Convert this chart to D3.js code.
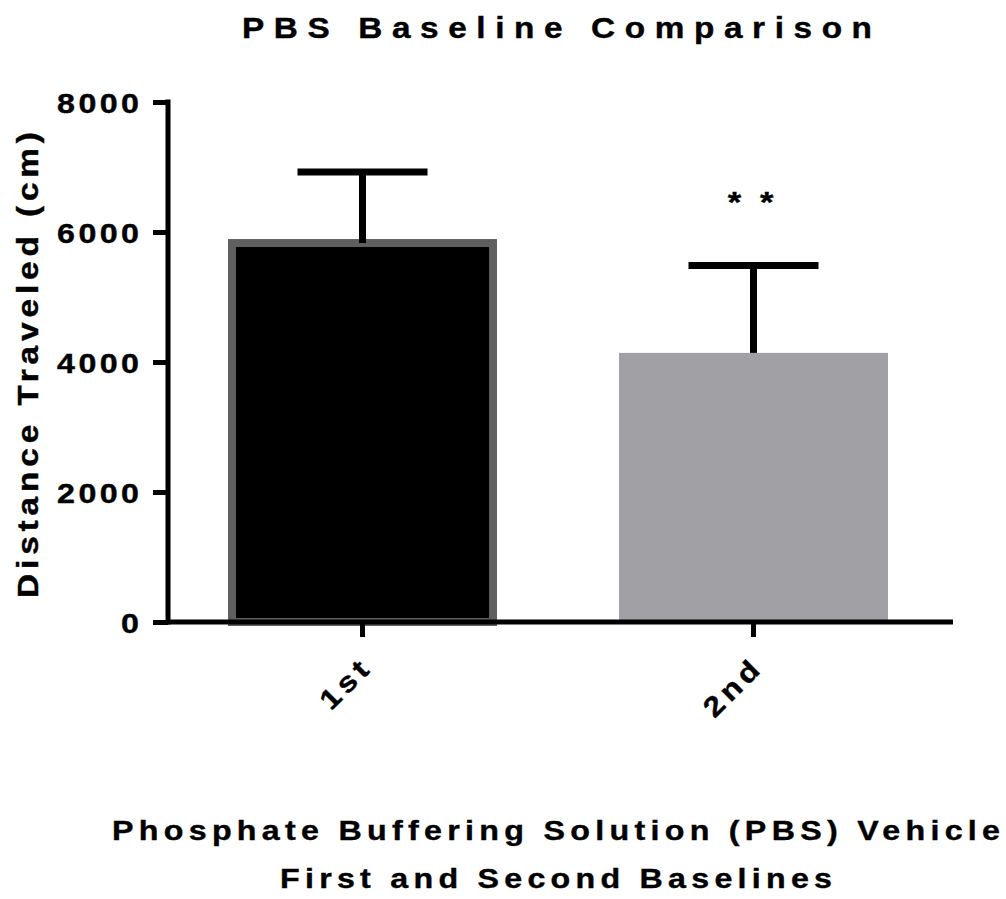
<!DOCTYPE html>
<html>
<head>
<meta charset="utf-8">
<script src="https://cdn.jsdelivr.net/npm/d3@7"></script>
<style>
  body { margin: 0; background: #fff; }
  text { font-family: "Liberation Sans", Arial, sans-serif; font-weight: bold; fill: #000; stroke: #000; stroke-width: 0.4px; }
</style>
</head>
<body>
<script>
// data
var groups = ["1st", "2nd"];
var means = [5830, 4140];
var sds = [1093, 1345];
var marks = ["", "* *"];
var yTicks = [0, 2000, 4000, 6000, 8000];
var fills = ["#000000", "#a1a0a5"];
var strokes = ["#5f5f5f", "none"];

var width = 1006, height = 899;
var stretch = 1.15; // the original lettering is a bit wider than Arial

var svg = d3.select("body").append("svg")
  .attr("width", width).attr("height", height);

var x_scale = d3.scaleBand()
  .domain(groups)
  .range([167, 949])
  .paddingInner(0.312)
  .paddingOuter(0.156);

var y_scale = d3.scaleLinear()
  .domain([0, 8000])
  .range([622, 102]);

// bars
svg.selectAll("rect.bar")
  .data(groups)
  .enter()
  .append("rect")
  .attr("class", "bar")
  .attr("x", function(d, i) { return strokes[i] == "none" ? x_scale(d) : x_scale(d) + 4; })
  .attr("width", function(d, i) { return strokes[i] == "none" ? x_scale.bandwidth() : x_scale.bandwidth() - 8; })
  .attr("y", function(d, i) { return y_scale(means[i]); })
  .attr("height", function(d, i) { return y_scale(0) - y_scale(means[i]); })
  .attr("fill", function(d, i) { return fills[i]; })
  .attr("stroke", function(d, i) { return strokes[i]; })
  .attr("stroke-width", 8);

// error bars (upper only)
var err = svg.selectAll("g.err")
  .data(groups)
  .enter()
  .append("g")
  .attr("class", "err");

err.append("line")
  .attr("x1", function(d) { return x_scale(d) + x_scale.bandwidth() / 2; })
  .attr("x2", function(d) { return x_scale(d) + x_scale.bandwidth() / 2; })
  .attr("y1", function(d, i) { return y_scale(means[i]); })
  .attr("y2", function(d, i) { return y_scale(means[i] + sds[i]); })
  .attr("stroke", "#000").attr("stroke-width", 7);

err.append("line")
  .attr("x1", function(d) { return x_scale(d) + x_scale.bandwidth() / 2 - 65; })
  .attr("x2", function(d) { return x_scale(d) + x_scale.bandwidth() / 2 + 65; })
  .attr("y1", function(d, i) { return y_scale(means[i] + sds[i]); })
  .attr("y2", function(d, i) { return y_scale(means[i] + sds[i]); })
  .attr("stroke", "#000").attr("stroke-width", 7);

// significance stars
svg.selectAll("text.star")
  .data(groups)
  .enter()
  .append("text")
  .attr("class", "star")
  .text(function(d, i) { return marks[i]; })
  .attr("text-anchor", "middle")
  .attr("dx", "2px")
  .style("font-size", "30px")
  .style("letter-spacing", "4px")
  .attr("transform", function(d, i) {
    return "translate(" + (x_scale(d) + x_scale.bandwidth() / 2 - 3) + "," + (y_scale(means[i] + sds[i]) - 53) + ") scale(" + stretch + ",1)";
  });

// y axis
var y_axis = d3.axisLeft(y_scale)
  .tickValues(yTicks)
  .tickSize(15)
  .tickPadding(0)
  .tickFormat(d3.format("d"));

var gy = svg.append("g")
  .attr("transform", "translate(168,0)")
  .call(y_axis);
gy.select(".domain").remove();
gy.selectAll(".tick line").attr("stroke", "#000").attr("stroke-width", 5);
gy.selectAll(".tick text")
  .attr("x", 0)
  .attr("dx", "3px")
  .attr("dy", "0.36em")
  .attr("transform", "translate(-29,0) scale(" + stretch + ",1)")
  .style("font-size", "28px")
  .style("letter-spacing", "3px");
gy.append("line")
  .attr("x1", 0).attr("x2", 0)
  .attr("y1", y_scale(8000) - 2.5).attr("y2", y_scale(0) + 2.5)
  .attr("stroke", "#000").attr("stroke-width", 5);

// x axis
var x_axis = d3.axisBottom(x_scale).tickSize(15).tickFormat("");
var gx = svg.append("g")
  .attr("transform", "translate(0," + y_scale(0) + ")")
  .call(x_axis);
gx.select(".domain").remove();
gx.selectAll(".tick line").attr("stroke", "#000").attr("stroke-width", 5);
gx.append("line")
  .attr("x1", 166).attr("x2", 953)
  .attr("y1", 0).attr("y2", 0)
  .attr("stroke", "#000").attr("stroke-width", 5);

svg.selectAll("text.xlab")
  .data(groups)
  .enter()
  .append("text")
  .attr("class", "xlab")
  .text(function(d) { return d; })
  .attr("text-anchor", "end")
  .attr("dx", "4px")
  .style("font-size", "28px")
  .style("letter-spacing", "4px")
  .attr("transform", function(d) {
    var cx = x_scale(d) + x_scale.bandwidth() / 2;
    return "translate(" + (cx + 8) + ",672) rotate(-45) scale(" + stretch + ",1)";
  });

// titles
function label(txt, x, y, len, size, rot) {
  svg.append("text")
    .text(txt)
    .attr("text-anchor", "middle")
    .attr("textLength", len / stretch)
    .attr("lengthAdjust", "spacing")
    .style("font-size", size + "px")
    .attr("transform", "translate(" + x + "," + y + ")" + (rot ? " rotate(" + rot + ")" : "") + " scale(" + stretch + ",1)");
}

label("PBS Baseline Comparison", 557, 38, 630, 29);
label("Distance Traveled (cm)", 38, 365, 466, 29, -90);
label("Phosphate Buffering Solution (PBS) Vehicle", 556, 840, 888, 28);
label("First and Second Baselines", 556, 888, 552, 28);
</script>
</body>
</html>
